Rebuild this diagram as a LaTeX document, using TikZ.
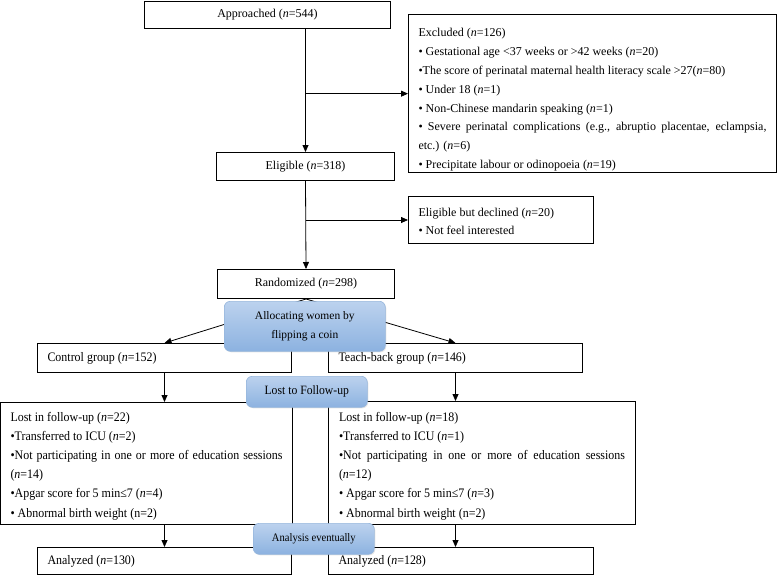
\documentclass[tikz,border=0pt]{standalone}
\usepackage{fontspec}
\setmainfont{Liberation Serif}
\newfontfamily\narrowfont{Liberation Serif}[FakeStretch=0.92]
\usetikzlibrary{arrows.meta,shadows}

\definecolor{allocTop}{RGB}{188,210,238}
\definecolor{allocBot}{RGB}{140,178,224}
\definecolor{allocLine}{RGB}{150,182,220}
\newcommand{\nval}[1]{(\textit{n}=#1)}
\newcommand{\hstrut}[1]{\rule{0pt}{#1}}
\newcommand{\dstrut}[1]{\rule[-#1]{0pt}{#1}}

\tikzset{
  box/.style={draw, line width=1pt, anchor=north west, inner xsep=10pt, inner ysep=0pt,
    font=\fontsize{12}{19}\selectfont},
  txtbox/.style={box, align=justify},
  lowbox/.style={txtbox, font=\narrowfont\fontsize{13}{19.1}\selectfont},
  bluebox/.style={draw=allocLine, line width=0.6pt, rounded corners=6pt, top color=allocTop,
    bottom color=allocBot, anchor=north west, align=center, inner sep=0pt,
    drop shadow={opacity=0.2, shadow xshift=1pt, shadow yshift=-1pt}},
  arr/.style={-{Triangle[length=7pt,width=6pt]}, line width=0.8pt}
}

\begin{document}
\begin{tikzpicture}[x=1pt,y=-1pt]
\useasboundingbox (0,0) rectangle (778,575);

% screening
\node[box, minimum width=246pt, minimum height=27pt] (appr) at (144,1) {Approached \nval{544}};
\node[txtbox, text width=348pt, font=\fontsize{12}{18.9}\selectfont] (excl) at (408,14) {\hstrut{22pt}Excluded \nval{126}\\
• Gestational age <37 weeks or >42 weeks \nval{20}\\
•The score of perinatal maternal health literacy scale >27\nval{80}\\
• Under 18 \nval{1}\\
• Non-Chinese mandarin speaking \nval{1}\\
• Severe perinatal complications (e.g., abruptio placentae, eclampsia,\linebreak etc.) \nval{6}\\
• Precipitate labour or odinopoeia \nval{19}\dstrut{4pt}};
\node[box, minimum width=178pt, minimum height=28pt] (elig) at (216,152) {Eligible \nval{318}};
\node[txtbox, text width=165pt, font=\fontsize{12}{18}\selectfont] (decl) at (408,196) {\hstrut{20pt}Eligible but declined \nval{20}\\
• Not feel interested\dstrut{9pt}};
\node[box, minimum width=177pt, minimum height=29pt] (rand) at (217,269) {Randomized \nval{298}};

\draw[arr] (appr.south -| elig.north) -- (elig.north);
\draw[arr] (excl.west -| elig.north) -- (excl.west);
\draw[arr] (elig.south) -- (rand.north);
\draw[arr] (decl.west -| rand.north) -- (decl.west);

% allocation
\node[lowbox, text width=234pt, minimum height=29pt] (ctrl) at (37,343) {Control group \nval{152}};
\node[lowbox, text width=234pt, minimum height=29pt] (tb) at (328,343) {Teach-back group \nval{146}};
\draw[arr] (rand.south) -- (ctrl.north);
\draw[arr] (rand.south) -- (tb.north);
\node[bluebox, minimum width=161pt, minimum height=50pt, font=\fontsize{11.5}{19}\selectfont] (alloc) at (224,301) {Allocating women by\\flipping a coin};

% follow-up
\node[lowbox, text width=272pt] (lostL) at (0,402) {\hstrut{19pt}Lost in follow-up \nval{22}\\
•Transferred to ICU \nval{2}\\
•Not participating in one or more of education sessions\linebreak \nval{14}\\
•Apgar score for 5 min≤7 \nval{4}\\
• Abnormal birth weight (n=2)\dstrut{7pt}};
\node[lowbox, text width=286pt, inner xsep=10.5pt] (lostR) at (328,401) {\hstrut{20pt}Lost in follow-up \nval{18}\\
•Transferred to ICU \nval{1}\\
•Not participating in one or more of education sessions\linebreak \nval{12}\\
• Apgar score for 5 min≤7 \nval{3}\\
• Abnormal birth weight (n=2)\dstrut{7pt}};
\draw[arr] (ctrl.south) -- (ctrl.south |- lostL.north);
\draw[arr] (tb.south) -- (tb.south |- lostR.north);
\node[bluebox, minimum width=121pt, minimum height=31pt, font=\narrowfont\fontsize{12.7}{14}\selectfont] (lfu) at (246,376) {Lost to Follow-up};

% analysis
\node[lowbox, text width=234pt, minimum height=27pt] (anaL) at (37,547) {Analyzed \nval{130}};
\node[lowbox, text width=245pt, minimum height=27pt] (anaR) at (328,547) {Analyzed \nval{128}};
\draw[arr] (ctrl.south |- lostL.south) -- (anaL.north);
\draw[arr] (tb.south |- lostR.south) -- (tb.south |- anaR.north);
\node[bluebox, minimum width=121pt, minimum height=31pt, font=\narrowfont\fontsize{11.5}{12}\selectfont] (ae) at (253,523) {Analysis eventually};
\end{tikzpicture}
\end{document}
